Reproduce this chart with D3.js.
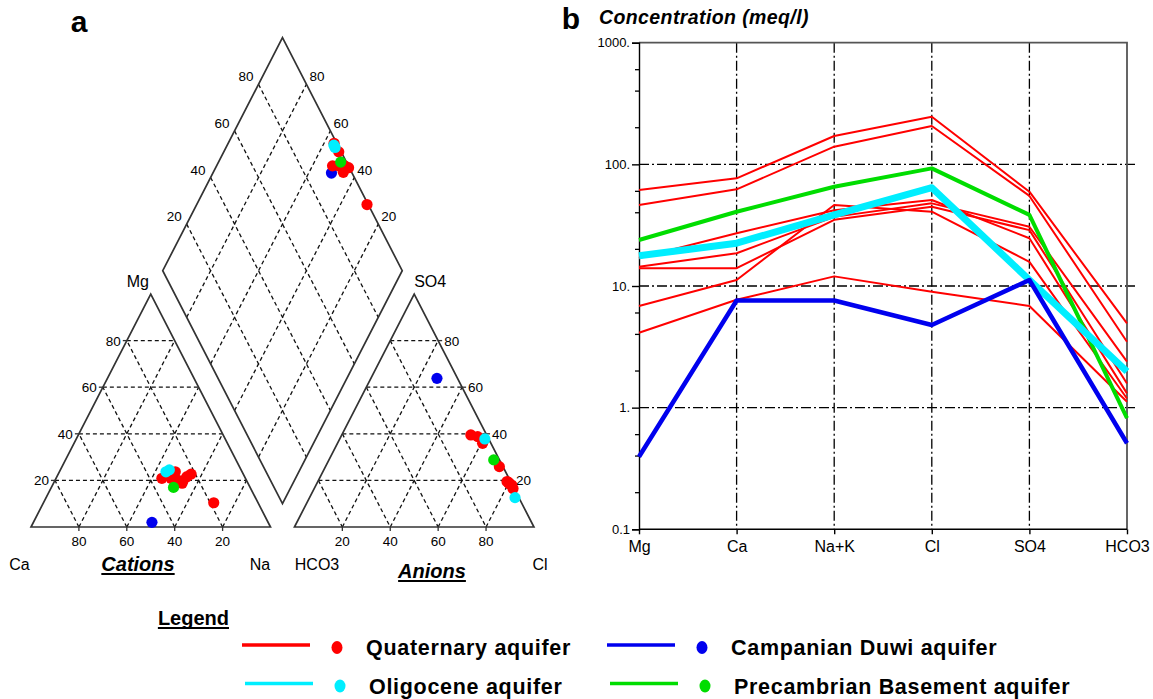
<!DOCTYPE html>
<html>
<head>
<meta charset="utf-8">
<script src="https://cdn.jsdelivr.net/npm/d3@7"></script>
<style>
  body { margin: 0; background: #fff; }
  text { font-family: "Liberation Sans", Arial, sans-serif; fill: #000; }
</style>
</head>
<body>
<svg width="1153" height="699"></svg>
<script>
// aquifers and their colours
const aquifers = ['Quaternary aquifer', 'Campanian Duwi aquifer', 'Oligocene aquifer', 'Precambrian Basement aquifer'];
const aquiferColors = ['#ff0000', '#0000ee', '#00eeff', '#00dd00'];

// piper samples (percent of meq), one entry per sample
const pipAquifer = [0, 0, 0, 0, 0, 0, 0, 0, 0, 2, 2, 3, 1];
const cationCa  = [34.9, 27.9, 28.9, 26.6, 24.1, 21.8, 31.1, 27.5, 18.5, 31.8, 30.0, 32.0, 48.5];
const cationMg  = [20.9, 23.7, 20.2, 19.9, 21.6, 22.7, 20.9, 18.8, 10.4, 23.7, 24.5, 17.0, 2.0];
const anionCl   = [79.7, 53.9, 57.1, 72.6, 60.6, 81.7, 80.5, 79.0, 83.0, 60.6, 85.8, 68.8, 27.6];
const anionSO4  = [19.2, 39.5, 38.8, 25.9, 35.9, 18.0, 18.5, 19.5, 16.5, 37.8, 12.6, 28.8, 63.8];
const pctTicks = [20, 40, 60, 80];

// schoeller samples (meq/l)
const ions = ['Mg', 'Ca', 'Na+K', 'Cl', 'SO4', 'HCO3'];
const schAquifer = [0, 0, 0, 0, 0, 0, 0, 3, 2, 1];
const schValues = [
    [61.5, 76.8, 171, 246, 59.6, 4.93],
    [46.3, 62.3, 139.7, 206.6, 55, 3.48],
    [14.4, 18.6, 37, 47.8, 30.7, 2.39],
    [14.0, 14.0, 35, 44.9, 28.8, 1.58],
    [17.0, 27.1, 42, 50.9, 24.7, 1.31],
    [6.85, 11.2, 46.3, 40.8, 15.8, 1.19],
    [4.13, 7.7, 12, 8.98, 6.85, 1.12],
    [23.9, 40.8, 65.5, 92.7, 38.4, 0.82],
    [17.7, 22.5, 38.4, 64.3, 11.2, 1.98],
    [0.395, 7.6, 7.6, 4.78, 11.2, 0.51]
];
const yTicks = [0.1, 1, 10, 100, 1000];
const yTickLabels = ['0.1', '1.', '10.', '100.', '1000.'];
const yMinor = [0.2, 0.4, 0.6, 2, 4, 6, 20, 40, 60, 200, 400, 600];

const svg = d3.select('svg');

// ================= a : piper =================
const H = Math.sqrt(3) / 2;
const gap = 10;
const px = d3.scaleLinear().domain([0, 100]).range([31, 270.5]);
const py = d3.scaleLinear().domain([0, 100 * H]).range([527, 294]);

const cat = (ca, mg) => { const na = 100 - ca - mg; return [px(na + mg / 2), py(mg * H)]; };
const ani = (cl, so4) => [px(100 + gap + cl + so4 / 2), py(so4 * H)];
const dia = (na, s) => [px((100 + gap + s + na) / 2), py((100 + gap + s - na) * H)];

const pg = svg.append('g');
const grid = pg.append('g')
    .attr('stroke', '#111').attr('stroke-width', 1.3).attr('stroke-dasharray', '4,3').attr('fill', 'none');
const seg = (a, b) => grid.append('line').attr('x1', a[0]).attr('y1', a[1]).attr('x2', b[0]).attr('y2', b[1]);

pctTicks.forEach(t => {
    // cation
    seg(cat(100 - t, t), cat(0, t));
    seg(cat(t, 0), cat(t, 100 - t));
    seg(cat(100 - t, 0), cat(0, 100 - t));
    // anion (cl, so4)
    seg(ani(0, t), ani(100 - t, t));
    seg(ani(t, 0), ani(t, 100 - t));
    seg(ani(0, 100 - t), ani(100 - t, 0));
    // diamond
    seg(dia(t, 0), dia(t, 100));
    seg(dia(0, t), dia(100, t));
});

const outline = d3.line();
const shapes = [
    [cat(100, 0), cat(0, 0), cat(0, 100)],
    [ani(0, 0), ani(100, 0), ani(0, 100)],
    [dia(100, 0), dia(0, 0), dia(0, 100), dia(100, 100)]
];
pg.selectAll('path.outline').data(shapes).enter().append('path')
    .attr('class', 'outline')
    .attr('d', d => outline(d) + 'Z')
    .attr('fill', 'none').attr('stroke', '#333').attr('stroke-width', 1.7);

// ticks and labels
const ticks = pg.append('g').attr('stroke', '#333').attr('stroke-width', 1.3);
const lab = (x, y, txt, anchor, size) => pg.append('text')
    .attr('x', x).attr('y', y).attr('text-anchor', anchor || 'middle')
    .attr('font-size', size || 13.5).text(txt);

pctTicks.forEach(t => {
    let p = cat(t, 0);
    ticks.append('line').attr('x1', p[0]).attr('x2', p[0]).attr('y1', p[1]).attr('y2', p[1] + 4);
    lab(p[0], 546, t);
    p = cat(100 - t, t);
    ticks.append('line').attr('x1', p[0] - 4).attr('x2', p[0]).attr('y1', p[1]).attr('y2', p[1]);
    lab(p[0] - 6, p[1] + 5, t, 'end');
    p = ani(t, 0);
    ticks.append('line').attr('x1', p[0]).attr('x2', p[0]).attr('y1', p[1]).attr('y2', p[1] + 4);
    lab(p[0], 546, t);
    p = ani(100 - t, t);
    ticks.append('line').attr('x1', p[0]).attr('x2', p[0] + 4).attr('y1', p[1]).attr('y2', p[1]);
    lab(p[0] + 6, p[1] + 5, t, 'start');
    p = dia(0, t);
    lab(p[0] - 5, p[1] - 3, t, 'end');
    p = dia(100 - t, 100);
    lab(p[0] + 3, p[1] - 3, t, 'start');
});

lab(cat(0, 100)[0] - 13, 287, 'Mg', 'middle', 16);
lab(ani(0, 100)[0] + 16, 287, 'SO4', 'middle', 16);
lab(19.5, 570, 'Ca', 'middle', 16);
lab(260, 570, 'Na', 'middle', 16);
lab(317, 570, 'HCO3', 'middle', 16);
lab(540, 570, 'Cl', 'middle', 16);

const underlined = (x, y, txt) => {
    const t = pg.append('text').attr('x', x).attr('y', y).attr('text-anchor', 'middle')
        .attr('font-size', 20).attr('font-weight', 'bold').attr('font-style', 'italic').text(txt);
    const w = t.node().getComputedTextLength();
    pg.append('line').attr('x1', x - w / 2).attr('x2', x + w / 2).attr('y1', y + 3).attr('y2', y + 3)
        .attr('stroke', '#000').attr('stroke-width', 1.8);
};
underlined(138, 571, 'Cations');
underlined(432, 578, 'Anions');

// points: blue, red, green, cyan order
const drawOrder = [1, 0, 3, 2];
const idx = d3.range(pipAquifer.length)
    .sort((a, b) => drawOrder.indexOf(pipAquifer[a]) - drawOrder.indexOf(pipAquifer[b]));
const pts = [];
idx.forEach(i => {
    const c = cat(cationCa[i], cationMg[i]);
    const a = ani(anionCl[i], anionSO4[i]);
    const na = 100 - cationCa[i] - cationMg[i];
    const d = dia(na, anionCl[i] + anionSO4[i]);
    [c, a, d].forEach(p => pts.push({ p, aq: pipAquifer[i] }));
});
pg.append('g').selectAll('circle').data(pts).enter().append('circle')
    .attr('cx', d => d.p[0]).attr('cy', d => d.p[1]).attr('r', 5.6)
    .attr('fill', d => aquiferColors[d.aq]);

svg.append('text').attr('x', 79).attr('y', 32).attr('text-anchor', 'middle')
    .attr('font-size', 30).attr('font-weight', 'bold').text('a');

// ================= b : schoeller =================
const sx = d3.scalePoint().domain(ions).range([639, 1127]);
const sy = d3.scaleLog().domain([0.1, 1000]).range([529.3, 42.7]);
const sg = svg.append('g');

const dashDot = '10,3,2,3';
sg.append('g').selectAll('line').data(ions.slice(1, 5)).enter().append('line')
    .attr('x1', d => sx(d)).attr('x2', d => sx(d)).attr('y1', sy(1000)).attr('y2', sy(0.1))
    .attr('stroke', '#000').attr('stroke-width', 1.3).attr('stroke-dasharray', dashDot);
sg.append('g').selectAll('line').data([1, 10, 100]).enter().append('line')
    .attr('x1', sx('Mg')).attr('x2', sx('HCO3') + 10).attr('y1', d => sy(d)).attr('y2', d => sy(d))
    .attr('stroke', '#000').attr('stroke-width', 1.3).attr('stroke-dasharray', dashDot);

// frame top / right
sg.append('path')
    .attr('d', `M${sx('Mg')},${sy(1000)}H${sx('HCO3')}V${sy(0.1)}`)
    .attr('fill', 'none').attr('stroke', '#555').attr('stroke-width', 1.8);

const yAxis = d3.axisLeft(sy).tickValues(yTicks).tickFormat((d, i) => yTickLabels[i]).tickSize(7).tickPadding(2);
const yg = sg.append('g').attr('transform', `translate(${sx('Mg')},0)`).call(yAxis);
yg.selectAll('text').attr('font-size', 13).attr('font-family', '"Liberation Sans", Arial, sans-serif');
yg.selectAll('line, path').attr('stroke', '#000').attr('stroke-width', 1.4);
yg.append('g').selectAll('line').data(yMinor).enter().append('line')
    .attr('x1', -4).attr('x2', 1).attr('y1', d => sy(d)).attr('y2', d => sy(d))
    .attr('stroke', '#000').attr('stroke-width', 1.3);

const xAxis = d3.axisBottom(sx).tickSize(5).tickPadding(6);
const xg = sg.append('g').attr('transform', `translate(0,${sy(0.1)})`).call(xAxis);
xg.select('.domain').attr('d', `M${sx('Mg')},0H${sx('HCO3')}`);
xg.selectAll('text').attr('font-size', 16).attr('font-family', '"Liberation Sans", Arial, sans-serif');
xg.selectAll('line, path').attr('stroke', '#000').attr('stroke-width', 1.4);

const line = d3.line().x((d, i) => sx(ions[i])).y(d => sy(d));
const lineWidth = [2, 4.5, 7, 4];
const order = d3.range(schValues.length)
    .sort((a, b) => [0, 3, 2, 1].indexOf(schAquifer[a]) - [0, 3, 2, 1].indexOf(schAquifer[b]));
sg.append('g').selectAll('path').data(order).enter().append('path')
    .attr('d', i => line(schValues[i]))
    .attr('fill', 'none')
    .attr('stroke', i => aquiferColors[schAquifer[i]])
    .attr('stroke-width', i => lineWidth[schAquifer[i]])
    .attr('stroke-linejoin', 'round');

svg.append('text').attr('x', 571).attr('y', 29).attr('text-anchor', 'middle')
    .attr('font-size', 30).attr('font-weight', 'bold').text('b');
svg.append('text').attr('x', 599).attr('y', 24)
    .attr('font-size', 19.5).attr('font-weight', 'bold').attr('font-style', 'italic').attr('letter-spacing', 0.4)
    .text('Concentration (meq/l)');

// ================= legend =================
const lg = svg.append('g');
const legTitle = lg.append('text').attr('x', 229).attr('y', 625).attr('text-anchor', 'end')
    .attr('font-size', 20).attr('font-weight', 'bold').text('Legend');
const lw = legTitle.node().getComputedTextLength();
lg.append('line').attr('x1', 229 - lw).attr('x2', 229).attr('y1', 628).attr('y2', 628)
    .attr('stroke', '#000').attr('stroke-width', 2);

const legPos = [[242, 645], [607, 645], [245, 683.5], [610, 683.5]];
aquifers.forEach((name, i) => {
    const [x, y] = legPos[i];
    lg.append('line').attr('x1', x).attr('x2', x + 68).attr('y1', y).attr('y2', y)
        .attr('stroke', aquiferColors[i]).attr('stroke-width', 3.5);
    lg.append('ellipse').attr('cx', x + 95).attr('cy', y + 2.5).attr('rx', 5.5).attr('ry', 6.5)
        .attr('fill', aquiferColors[i]);
    lg.append('text').attr('x', x + 124).attr('y', y + 10)
        .attr('font-size', 21.5).attr('font-weight', 'bold').attr('letter-spacing', 0.7)
        .text(name);
});
</script>
</body>
</html>
